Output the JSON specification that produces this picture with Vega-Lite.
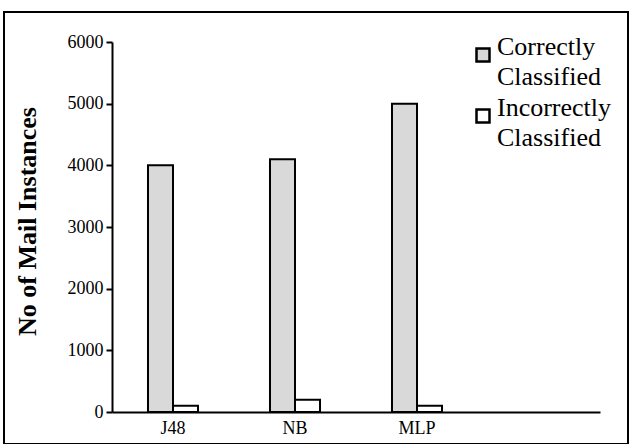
{
  "$schema": "https://vega.github.io/schema/vega-lite/v6.json",
  "autosize": {"type": "none"},
  "padding": {"left": 4, "top": 12, "right": 2, "bottom": 0},
  "width": 624,
  "height": 432,
  "background": "white",
  "config": {
    "view": {"stroke": "black", "strokeWidth": 2},
    "font": "Liberation Serif",
    "axis": {"labelFont": "Liberation Serif", "titleFont": "Liberation Serif", "labelColor": "black", "titleColor": "black", "domainColor": "black", "tickColor": "black", "grid": false},
    "legend": {"labelFont": "Liberation Serif", "labelColor": "black"},
    "style": {"guide-label": {"font": "Liberation Serif", "lineHeight": 30}}
  },
  "data": {
    "values": [
      {"algo": "J48", "type": "Correctly Classified", "count": 4000},
      {"algo": "J48", "type": "Incorrectly Classified", "count": 100},
      {"algo": "NB", "type": "Correctly Classified", "count": 4100},
      {"algo": "NB", "type": "Incorrectly Classified", "count": 200},
      {"algo": "MLP", "type": "Correctly Classified", "count": 5000},
      {"algo": "MLP", "type": "Incorrectly Classified", "count": 100}
    ]
  },
  "mark": {"type": "bar", "stroke": "black", "strokeWidth": 2},
  "encoding": {
    "x": {
      "field": "algo",
      "type": "nominal",
      "scale": {"domain": ["J48", "NB", "MLP", "_"], "range": [108, 596], "paddingInner": 0.59, "paddingOuter": 0.295},
      "axis": {"orient": "bottom", "offset": -32, "ticks": false, "labelPadding": 7, "labelFontSize": 18, "labelAngle": 0, "title": null, "domainWidth": 2, "labelExpr": "datum.value == '_' ? '' : datum.value"}
    },
    "xOffset": {"field": "type", "type": "nominal", "scale": {"domain": ["Correctly Classified", "Incorrectly Classified"]}},
    "y": {
      "field": "count",
      "type": "quantitative",
      "scale": {"domain": [0, 6000], "range": [400, 30]},
      "axis": {"offset": -108, "values": [0, 1000, 2000, 3000, 4000, 5000, 6000], "format": "d", "tickSize": 6, "tickWidth": 2, "domainWidth": 2, "labelFontSize": 18, "labelPadding": 3, "title": "No of Mail Instances", "titleFontSize": 26, "titleFontWeight": "bold", "titlePadding": 27, "titleY": 209}
    },
    "fill": {
      "field": "type",
      "type": "nominal",
      "scale": {"domain": ["Correctly Classified", "Incorrectly Classified"], "range": ["#d9d9d9", "#ffffff"]},
      "legend": {"orient": "none", "legendX": 466, "legendY": 30, "title": null, "labelExpr": "split(datum.label, ' ')", "labelFont": "Liberation Serif", "labelFontSize": 26, "labelColor": "black", "labelLimit": 300, "labelOffset": 1, "labelBaseline": "alphabetic", "symbolType": "square", "symbolSize": 169, "symbolStrokeColor": "black", "symbolStrokeWidth": 2.5, "rowPadding": 5}
    }
  }
}
